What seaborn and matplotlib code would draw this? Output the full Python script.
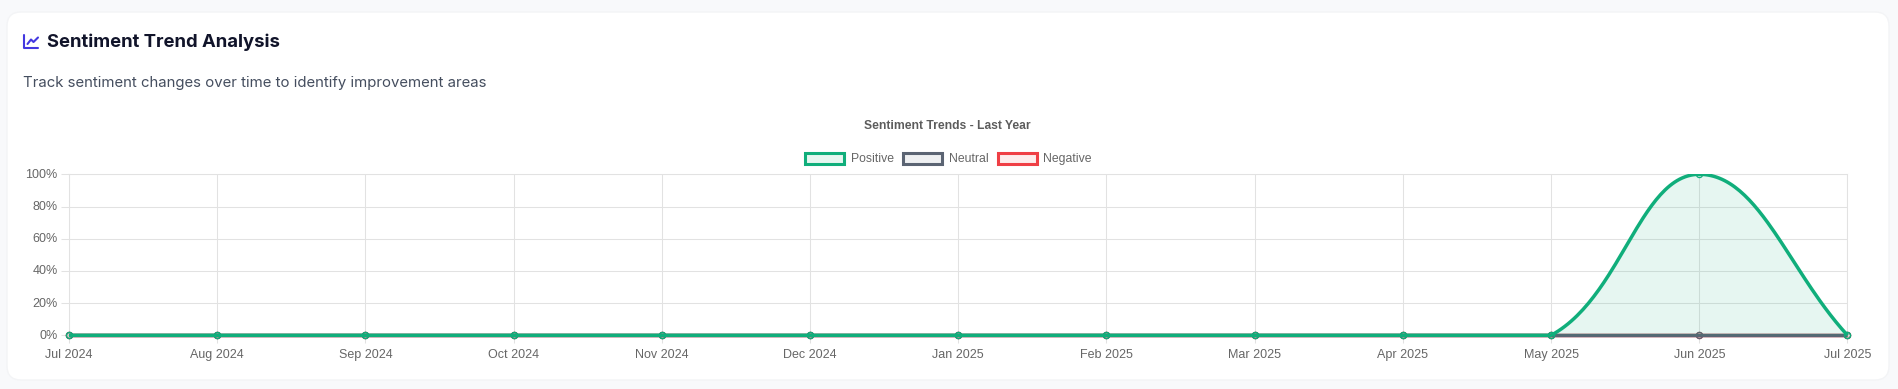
import matplotlib
matplotlib.use("Agg")
import matplotlib.pyplot as plt
from matplotlib.patches import FancyBboxPatch
from matplotlib.lines import Line2D
from matplotlib.patches import Rectangle
from matplotlib.colors import to_rgba
from matplotlib.transforms import ScaledTranslation
import numpy as np
import pandas as pd
import seaborn as sns

months = ["Jul 2024", "Aug 2024", "Sep 2024", "Oct 2024", "Nov 2024", "Dec 2024", "Jan 2025",
          "Feb 2025", "Mar 2025", "Apr 2025", "May 2025", "Jun 2025", "Jul 2025"]
positive = [0, 0, 0, 0, 0, 0, 0, 0, 0, 0, 0, 100, 0]
neutral = [0, 0, 0, 0, 0, 0, 0, 0, 0, 0, 0, 0, 0]
negative = [0, 0, 0, 0, 0, 0, 0, 0, 0, 0, 0, 0, 0]
y_ticks = [0, 20, 40, 60, 80, 100]
series_names = ["Positive", "Neutral", "Negative"]
series_colors = ["#10AE7B", "#5B6473", "#EF3F45"]
series_fills = ["#E6F6F0", "#EFF0F2", "#FDECEC"]

W, H = 1899, 389
L, R, T, B = 69, 1847.5, 174.3, 335.3

sns.set_theme(style="white")
plt.rcParams["font.family"] = ["Liberation Sans", "DejaVu Sans"]

fig = plt.figure(figsize=(W / 100, H / 100), dpi=100, facecolor="#F8F9FB")
bg = fig.add_axes([0, 0, 1, 1], zorder=0)
bg.set_xlim(0, W)
bg.set_ylim(H, 0)
bg.axis("off")
bg.add_patch(FancyBboxPatch((7 + 14, 12 + 14), 1882 - 28, 368 - 28,
                            boxstyle="round,pad=14,rounding_size=14",
                            fc="white", ec="#F3F4F6", lw=1))

# page header
bg.add_line(Line2D([24, 24, 38.5], [35, 48, 48], color="#4338E0", lw=1.5))
bg.add_line(Line2D([27.5, 31, 33.5, 38], [44, 39.5, 42, 37.5], color="#4338E0", lw=1.5))
bg.text(47, 42.5, "Sentiment Trend Analysis", fontsize=13.3, fontweight="bold",
        family="Inter", color="#11142A", va="center", ha="left")
bg.text(23, 83, "Track sentiment changes over time to identify improvement areas", fontsize=10.75,
        family="Inter", color="#454E5F", va="center", ha="left")

# chart title and legend
bg.text(947.5, 125.8, "Sentiment Trends - Last Year", fontsize=8.7, fontweight="bold",
        color="#5C5C5C", va="center", ha="center")
leg_x = [804, 902, 996.5]
for name, color, fill, x in zip(series_names, series_colors, series_fills, leg_x):
    bg.add_patch(Rectangle((x + 1.5, 152.5), 39, 11.5, fc=fill, ec=color, lw=2.2))
    bg.text(x + 47, 158.8, name, fontsize=8.85, color="#666666", va="center", ha="left")

ax = fig.add_axes([L / W, 1 - B / H, (R - L) / W, (B - T) / H], zorder=1)
ax.patch.set_alpha(0)


def _ctrl(px, py, i, t):
    n = len(px)
    prev = np.array([px[max(i - 1, 0)], py[max(i - 1, 0)]])
    cur = np.array([px[i], py[i]])
    nxt = np.array([px[min(i + 1, n - 1)], py[min(i + 1, n - 1)]])
    d01, d12 = np.hypot(*(cur - prev)), np.hypot(*(nxt - cur))
    s01 = d01 / (d01 + d12) if d01 + d12 else 0
    s12 = d12 / (d01 + d12) if d01 + d12 else 0
    return cur - t * s01 * (nxt - prev), cur + t * s12 * (nxt - prev)


def chartjs_curve(xs, ys, tension=0.4, per_seg=60):
    """Bezier smoothing as Chart.js draws it, worked out in pixel space."""
    px = np.array(xs, float) * (R - L) / (len(xs) - 1)
    py = np.array(ys, float) * (B - T) / 100
    n = len(px)
    out_x, out_y = [], []
    for i in range(n - 1):
        c1 = _ctrl(px, py, i, tension)[1]
        c2 = _ctrl(px, py, i + 1, tension)[0]
        t = np.linspace(0, 1, per_seg)[:, None]
        p0, p3 = np.array([px[i], py[i]]), np.array([px[i + 1], py[i + 1]])
        c1 = np.clip(c1, [0, 0], [R - L, B - T])
        c2 = np.clip(c2, [0, 0], [R - L, B - T])
        p = (1 - t) ** 3 * p0 + 3 * (1 - t) ** 2 * t * c1 + 3 * (1 - t) * t ** 2 * c2 + t ** 3 * p3
        out_x.append(p[:, 0])
        out_y.append(p[:, 1])
    return np.concatenate(out_x) * (n - 1) / (R - L), np.concatenate(out_y) * 100 / (B - T)


x_pos = np.arange(len(months))
series_values = [positive, neutral, negative]
clip_rect = Rectangle((L - 6, T - 0.3), R - L + 12, B - T + 6, transform=bg.transData)
# the first series is drawn last, so it lies on top
for k in [2, 1, 0]:
    cx, cy = chartjs_curve(x_pos, series_values[k])
    z = 3 + (2 - k) * 2
    ax.fill_between(cx, 0, cy, color=series_colors[k], alpha=0.1, lw=0, zorder=z)
    sns.lineplot(x=cx, y=cy, ax=ax, color=series_colors[k], lw=2.5, sort=False, estimator=None,
                 errorbar=None, zorder=z + 0.1, solid_capstyle="butt")
    ax.lines[-1].set_clip_path(clip_rect)
    sns.scatterplot(x=x_pos, y=series_values[k], ax=ax, s=20, color=to_rgba(series_colors[k], 0.1),
                    edgecolor=series_colors[k], linewidth=0.9, zorder=z + 0.2)
    ax.collections[-1].set_clip_path(clip_rect)

ax.set_xlim(0, len(months) - 1)
ax.set_ylim(0, 100)
ax.set_xticks(x_pos, months)
ax.set_yticks(y_ticks, [f"{v}%" for v in y_ticks])
ax.grid(True, color="#E2E2E2", lw=0.75, zorder=0)
ax.set_axisbelow(True)
ax.set_xlabel("")
ax.set_ylabel("")
ax.tick_params(axis="both", which="major", length=5.5, width=0.75, color="#E2E2E2", labelsize=9,
               labelcolor="#666666", pad=3.5, bottom=True, left=True)
for s in ax.spines.values():
    s.set_color("#E2E2E2")
    s.set_linewidth(0.75)
    s.set_zorder(1)
shift_x = ScaledTranslation(0, -1 / 100, fig.dpi_scale_trans)
shift_y = ScaledTranslation(1 / 100, 1 / 100, fig.dpi_scale_trans)
for lab in ax.get_xticklabels():
    lab.set_transform(lab.get_transform() + shift_x)
for lab in ax.get_yticklabels():
    lab.set_transform(lab.get_transform() + shift_y)

fig.savefig("out.png", dpi=100, facecolor=fig.get_facecolor())
